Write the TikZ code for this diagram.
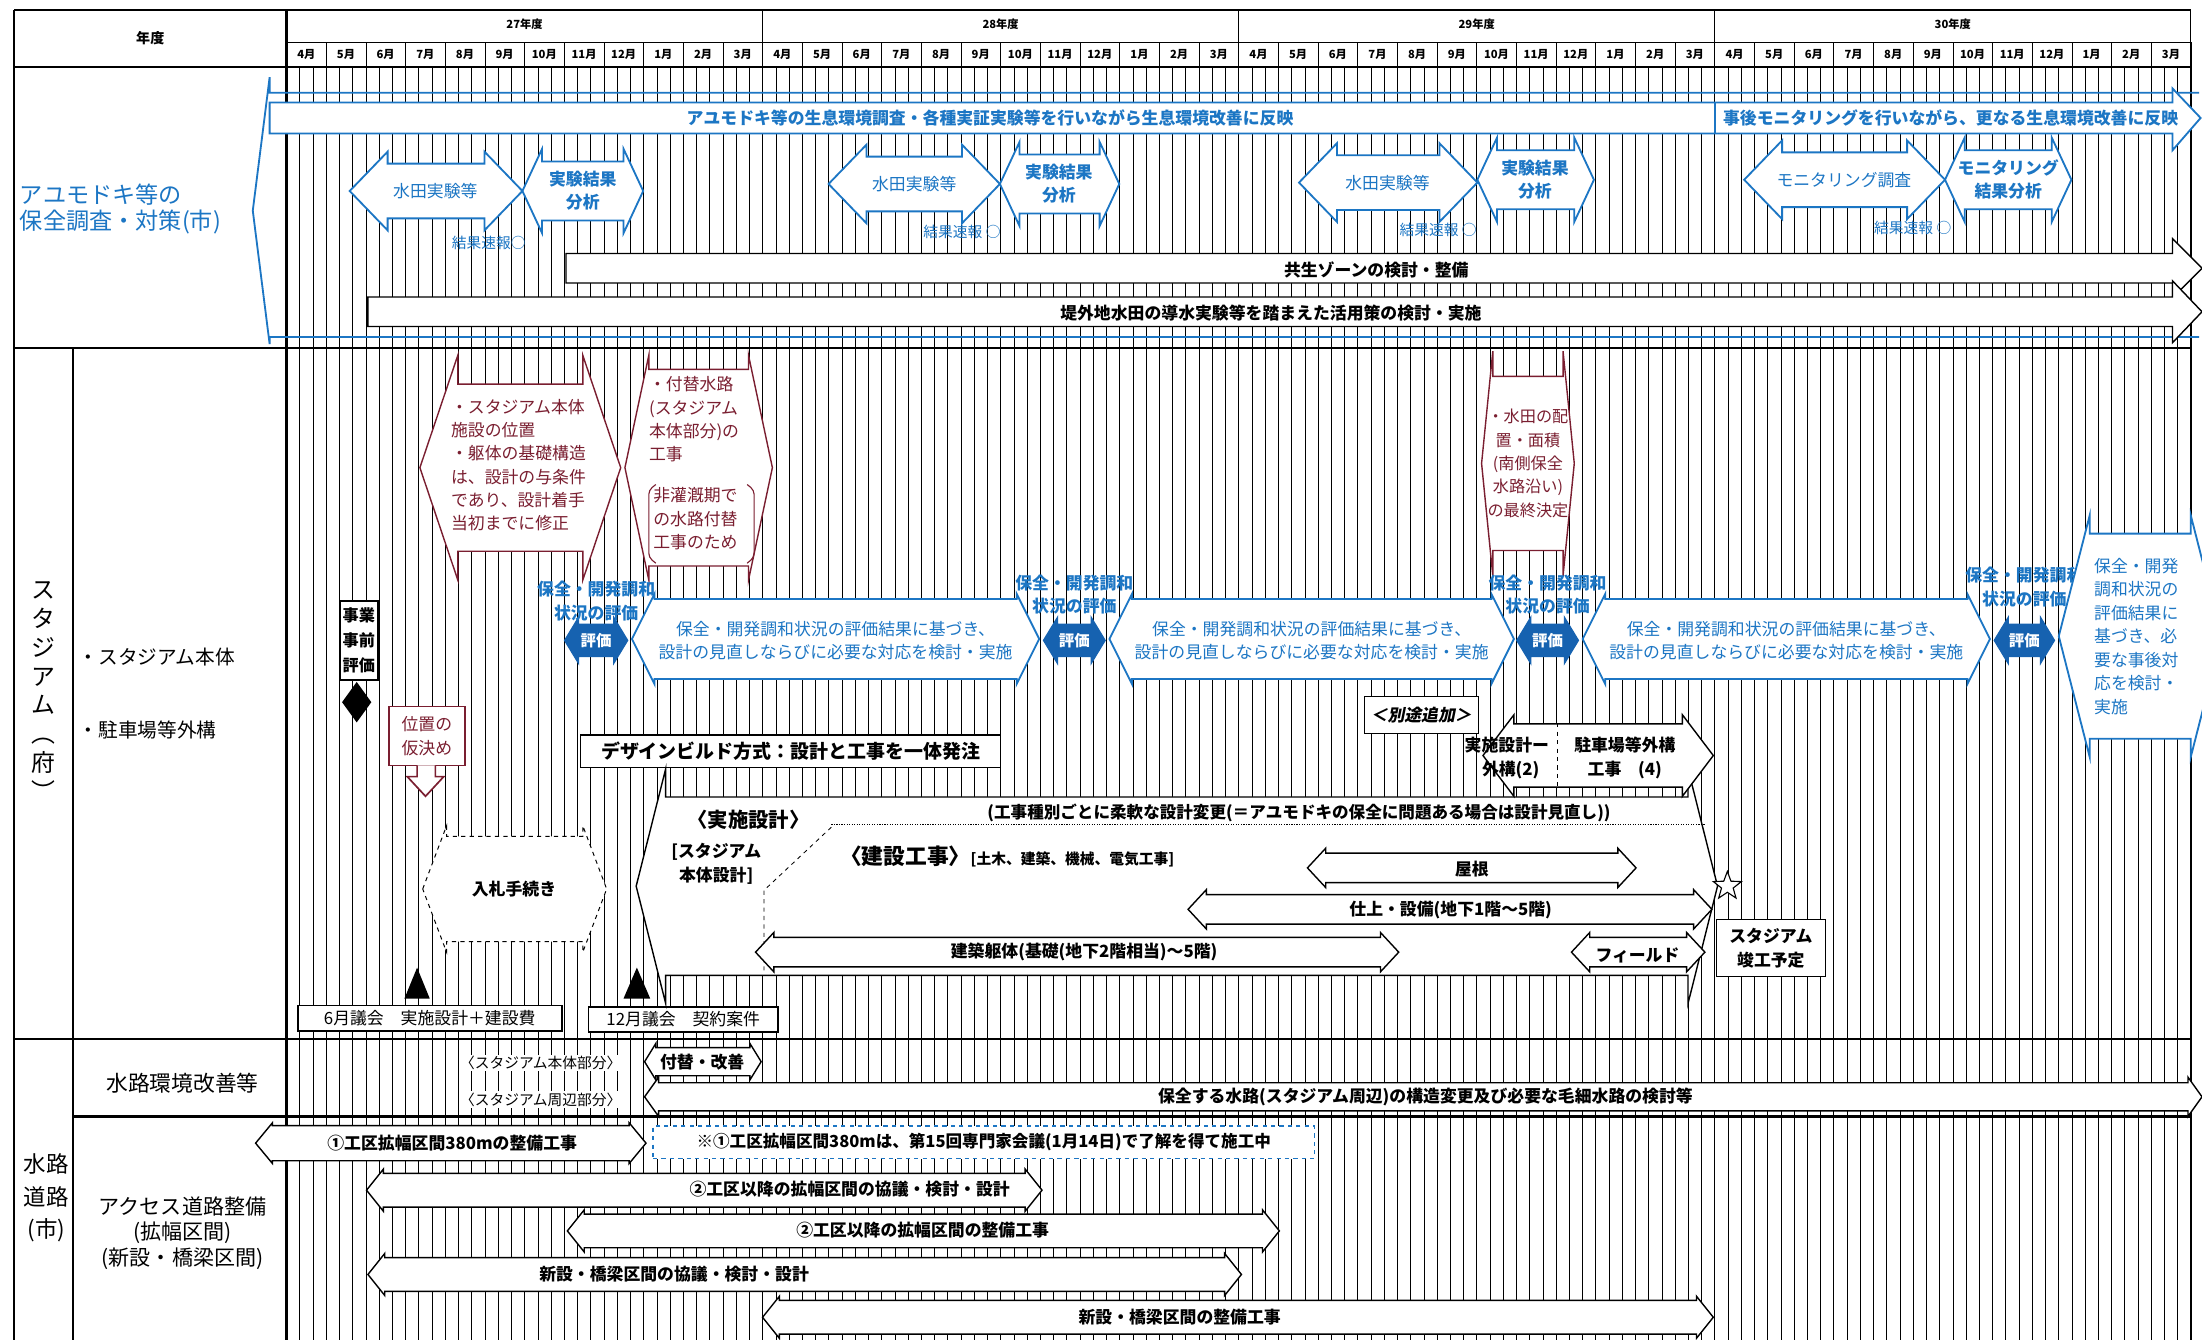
\documentclass[tikz,border=0pt]{standalone}
\usepackage{fontspec}
\setmainfont{Noto Sans CJK JP}
\newfontfamily\slantjp{Noto Sans CJK JP}[FakeSlant=0.2,BoldFeatures={FakeSlant=0.2}]
\usetikzlibrary{shapes.geometric}
\definecolor{ayublue}{RGB}{28,118,196}
\definecolor{evalblue}{RGB}{22,98,176}
\definecolor{maroon}{RGB}{122,30,48}
\newcommand{\fsz}[2]{\fontsize{#1}{#2}\selectfont}
% double headed bar: style, left tip, right tip, centre y, head depth, body half, head half
\newcommand{\dbar}[7][]{%
  \draw[#1] (#2,#4) -- (#2+#5,#4-#7) -- (#2+#5,#4-#6) -- (#3-#5,#4-#6) -- (#3-#5,#4-#7) -- (#3,#4) -- (#3-#5,#4+#7) -- (#3-#5,#4+#6) -- (#2+#5,#4+#6) -- (#2+#5,#4+#7) -- cycle;}
% single headed bar (head on the right)
\newcommand{\rbar}[7][]{%
  \draw[#1] (#2,#4-#6) -- (#3-#5,#4-#6) -- (#3-#5,#4-#7) -- (#3,#4) -- (#3-#5,#4+#7) -- (#3-#5,#4+#6) -- (#2,#4+#6) -- cycle;}
\tikzset{
  gridline/.style={line width=0.35pt},
  yearline/.style={line width=1pt},
  frameline/.style={line width=1.5pt},
  blueshape/.style={draw=ayublue,line width=1.3pt,fill=white},
  evalshape/.style={draw=evalblue,fill=evalblue,line width=0.8pt},
  maroonshape/.style={draw=maroon,line width=1pt,fill=white},
  blackshape/.style={draw=black,line width=1pt,fill=white},
  blk/.style={inner sep=0pt,align=center,font=\bfseries\fsz{12}{15}},
  blu/.style={inner sep=0pt,align=center,text=ayublue,font=\fsz{12}{16.5}},
  blub/.style={blu,font=\bfseries\fsz{12}{16.5}},
  mrn/.style={inner sep=0pt,align=left,text=maroon,font=\fsz{12}{16.6}},
  hdr/.style={inner sep=0pt,font=\bfseries\fsz{8}{9}},
  rowlabel/.style={inner sep=0pt,align=center,font=\fsz{15}{18}},
  boxed/.style={draw,line width=1.2pt,fill=white,inner sep=0pt,align=center,font=\bfseries\fsz{12}{15}}
}
\begin{document}
\begin{tikzpicture}[x=1pt,y=-1pt]
\useasboundingbox (0,0) rectangle (1568,954);
\fill[white] (0,0) rectangle (1568,954);

% grid of ten-day columns
\foreach \i in {0,...,144}
  \draw[gridline] ({204+\i*9.41667},48) -- ({204+\i*9.41667},954);
\foreach \i in {0,...,48}
  \draw[gridline] ({204+\i*28.25},30) -- ({204+\i*28.25},48);
\foreach \yr in {0,...,4}
  \draw[yearline] ({204+\yr*339},7) -- ({204+\yr*339},954);

% frame
\draw[frameline] (10,7) -- (1560,7);
\draw[gridline] (204,30) -- (1560,30);
\draw[frameline] (10,48) -- (1560,48);
\draw[frameline] (10,248) -- (1560,248);
\draw[frameline] (10,740) -- (1560,740);
\draw[frameline] (52,795) -- (1560,795);
\draw[frameline] (10,7) -- (10,954);
\draw[frameline] (204,7) -- (204,954);
\draw[frameline] (52,248) -- (52,954);

% header
\node[hdr,font=\bfseries\fsz{10}{12}] (nendo) at (107,27) {年度};
\foreach \yr/\lab in {0/27,1/28,2/29,3/30}
  \node[hdr] (year\lab) at ({204+(\yr+0.5)*339},17) {\lab 年度};
\foreach \yr in {0,...,3}
  \foreach \m [count=\k from 0] in {4,5,6,7,8,9,10,11,12,1,2,3}
    \node[hdr] (m\yr-\k) at ({204+(\yr*12+\k+0.5)*28.25},39) {\m 月};

% ---- section 1: ayumodoki
\draw[ayublue,line width=1.3pt] (1566,66) -- (192,66) -- (192,55) -- (180,150) -- (192,245) -- (192,240) -- (1566,240);
\draw[blueshape] (192,73) -- (1547,73) -- (1547,63) -- (1567,84) -- (1547,107) -- (1547,95) -- (192,95) -- cycle;
\draw[ayublue,line width=1.3pt] (1221,73) -- (1221,95);
\node[blub] (banner1) at (705,84) {アユモドキ等の生息環境調査・各種実証実験等を行いながら生息環境改善に反映};
\node[blub] (banner2) at (1389,84) {事後モニタリングを行いながら、更なる生息環境改善に反映};
\node[blu,align=left,anchor=west,font=\fsz{16.5}{18.5}] (ayulabel) at (14,149) {アユモドキ等の\\保全調査・対策(市)};

\dbar[blueshape]{249}{372}{136}{27}{19.5}{28}
\dbar[blueshape]{372}{458}{136}{14}{21}{30}
\dbar[blueshape]{590}{712}{131}{27}{19.5}{28}
\dbar[blueshape]{712}{797}{131}{14}{21}{30}
\dbar[blueshape]{925}{1052}{130}{27}{19.5}{28}
\dbar[blueshape]{1052}{1135}{128}{14}{21}{30}
\dbar[blueshape]{1242}{1385}{128}{27}{19.5}{28}
\dbar[blueshape]{1385}{1475}{128}{14}{21}{30}
\node[blu] (suiden1) at (310,136) {水田実験等};
\node[blub] (bunseki1) at (415,136) {実験結果\\分析};
\node[blu,font=\fsz{10.5}{12}] (sokuho1) at (348,173) {結果速報○};
\node[blu] (suiden2) at (651,131) {水田実験等};
\node[blub] (bunseki2) at (754,131) {実験結果\\分析};
\node[blu,font=\fsz{10.5}{12}] (sokuho2) at (685,165) {結果速報 ○};
\node[blu] (suiden3) at (988,130) {水田実験等};
\node[blub] (bunseki3) at (1093,128) {実験結果\\分析};
\node[blu,font=\fsz{10.5}{12}] (sokuho3) at (1024,164) {結果速報 ○};
\node[blu] (monitor4) at (1313,128) {モニタリング調査};
\node[blub] (bunseki4) at (1430,128) {モニタリング\\結果分析};
\node[blu,font=\fsz{10.5}{12}] (sokuho4) at (1362,162) {結果速報 ○};

\rbar[blackshape]{403}{1568}{191}{21}{10.5}{21}
\rbar[blackshape]{262}{1568}{222}{21}{10.5}{22}
\node[blk] (kyosei) at (980,192) {共生ゾーンの検討・整備};
\node[blk] (teigai) at (905,223) {堤外地水田の導水実験等を踏まえた活用策の検討・実施};

% ---- section 2: stadium
\node[rowlabel,font=\fsz{17}{20.5}] (stadlabel) at (31,492) {ス\\タ\\ジ\\ア\\ム\\︵\\府\\︶};
\node[rowlabel,anchor=west,font=\fsz{14}{16}] (honlabel) at (56,468) {・スタジアム本体};
\node[rowlabel,anchor=west,font=\fsz{14}{16}] (chulabel) at (56,520) {・駐車場等外構};

\dbar[maroonshape]{299}{442}{333}{27}{59.5}{80}
\dbar[maroonshape]{445}{550}{333}{17}{70}{80}
\dbar[maroonshape]{1055}{1121}{330}{8}{62}{80}
\node[mrn,anchor=north west] (hexpos) at (321,284) {・スタジアム本体\\施設の位置\\・躯体の基礎構造\\は、設計の与条件\\であり、設計着手\\当初までに修正};
\node[mrn,anchor=north west] (hexsui) at (462,268) {・付替水路\\(スタジアム\\本体部分)の\\工事};
\node[mrn,anchor=north west] (hexhi) at (465,347) {非灌漑期で\\の水路付替\\工事のため};
\draw[maroon,line width=0.8pt,rounded corners=3pt] (467,345) -- (462,349) -- (462,397) -- (467,401);
\draw[maroon,line width=0.8pt,rounded corners=3pt] (532,345) -- (537,349) -- (537,397) -- (532,401);
\node[mrn,align=center,font=\fsz{11.5}{16.7}] (hexsuiden) at (1088,330) {・水田の配\\置・面積\\(南側保全\\水路沿い)\\の最終決定};

% evaluation marks and follow-up arrows
\foreach \el/\er/\ly/\nm in {402/447/428/a,743/787/423.5/b,1080/1124/423.5/c,1420/1463/418/d}{
  \dbar[evalshape]{\el}{\er}{456}{10}{11.5}{16.5}
  \node[inner sep=0pt,text=white,font=\bfseries\fsz{11}{12}] (eval\nm) at ({(\el+\er)/2},456) {評価};
  \node[blub] (evallabel\nm) at ({(\el+\er)/2},\ly) {保全・開発調和\\状況の評価};
}
\foreach \bl/\br/\nm in {450/740/a,790/1078/b,1127/1417/c}{
  \dbar[blueshape]{\bl}{\br}{455}{16}{28.5}{32}
  \node[blu] (taio\nm) at ({(\bl+\br)/2},456) {保全・開発調和状況の評価結果に基づき、\\設計の見直しならびに必要な対応を検討・実施};
}
\dbar[blueshape]{1466}{1582}{453}{22}{73}{86}
\node[blu,align=left,anchor=north west,font=\fsz{12}{16.8}] (taiod) at (1491,397) {保全・開発\\調和状況の\\評価結果に\\基づき、必\\要な事後対\\応を検討・\\実施};

% early steps
\node[boxed,minimum width=27,minimum height=56,font=\bfseries\fsz{11.5}{18}] (jizen) at (255.5,456) {事業\\事前\\評価};
\node[diamond,fill=black,minimum width=21,minimum height=29,inner sep=0pt] (jizendia) at (254,500) {};
\node[draw=maroon,line width=1.2pt,fill=white,text=maroon,inner sep=0pt,align=center,minimum width=54,minimum height=42,font=\fsz{12}{17}] (karikime) at (304,524) {位置の\\仮決め};
\draw[maroonshape,line width=1.2pt] (297,545) -- (297,553) -- (290,553) -- (303,567) -- (316,553) -- (310,553) -- (310,545);
\dbar[draw=black,dashed,line width=0.7pt,fill=white]{301}{432}{633}{17}{37.5}{45}
\node[blk] (nyusatsu) at (366,633) {入札手続き};
\fill (288,711) -- (297,689) -- (306,711) -- cycle;
\fill (444,711) -- (453.5,689) -- (463,711) -- cycle;
\node[boxed,minimum width=188,minimum height=18,font=\fsz{12}{15}] (june) at (306,725) {6月議会　実施設計＋建設費};
\node[boxed,minimum width=135,minimum height=18,font=\fsz{12}{15}] (dec) at (486.5,726) {12月議会　契約案件};
\node[boxed,line width=1pt,minimum width=299,minimum height=23,font=\bfseries\fsz{13.5}{15}] (design) at (563,535) {デザインビルド方式：設計と工事を一体発注};

% design and construction
\dbar[blackshape]{453}{1223}{631}{21}{63.5}{83.5}
\draw[densely dotted,line width=0.8pt] (592,587) -- (1214,587);
\draw[dashed,line width=0.6pt] (592,589) -- (544,634) -- (544,691);
\node[blk,font=\bfseries\fsz{14.5}{16}] (jisshi) at (533,584) {〈実施設計〉};
\node[blk,font=\bfseries\fsz{11.8}{14}] (henko) at (925,579) {(工事種別ごとに柔軟な設計変更(＝アユモドキの保全に問題ある場合は設計見直し))};
\node[blk,font=\bfseries\fsz{12}{17}] (hontai) at (510,615) {[スタジアム\\本体設計]};
\node[blk,anchor=west] (kensetsu) at (598,610) {{\fsz{15.5}{16}〈建設工事〉}{\fsz{10.5}{12}[土木、建築、機械、電気工事]}};
\dbar[blackshape]{931}{1165}{618}{13}{10.5}{14}
\dbar[blackshape]{846}{1219}{647.5}{13}{10.5}{14}
\dbar[blackshape]{538}{996}{678}{13}{10.5}{14}
\dbar[blackshape]{1119}{1214}{678}{13}{10.5}{14}
\node[blk] (yane) at (1048,619) {屋根};
\node[blk] (shiage) at (1033,648) {仕上・設備(地下1階～5階)};
\node[blk] (kutai) at (772,678) {建築躯体(基礎(地下2階相当)～5階)};
\node[blk] (field) at (1166,680) {フィールド};
\node[star,star points=5,star point ratio=2.4,draw,line width=0.8pt,fill=white,minimum size=21pt,inner sep=0pt] (kstar) at (1230,631) {};
\node[boxed,line width=0.6pt,minimum width=78,minimum height=40,font=\bfseries\fsz{12}{17}] (kanko) at (1261,675) {スタジアム\\竣工予定};

% parking and exterior
\node[boxed,line width=0.8pt,minimum width=81,minimum height=26,font=\slantjp\bfseries\fsz{12}{14}] (betto) at (1012,509) {＜別途追加＞};
\dbar[blackshape]{1056}{1220}{538}{22}{22.5}{29}
\draw[dashed,line width=0.6pt] (1109,515) -- (1109,560);
\node[blk,font=\bfseries\fsz{12}{17}] (gaiko2) at (1073,540) {実施設計ー\\\ \ 外構(2)};
\node[blk,font=\bfseries\fsz{12}{17}] (gaiko4) at (1157,540) {駐車場等外構\\工事　(4)};

% ---- section 3: waterways and roads
\node[rowlabel,font=\fsz{16}{23}] (suirolabel) at (33,853) {水路\\道路\\(市)};
\node[rowlabel,font=\fsz{15.5}{18}] (kaizenlabel) at (130,771) {水路環境改善等};
\node[rowlabel,font=\fsz{15}{18}] (accesslabel) at (130,878) {アクセス道路整備\\(拡幅区間)\\(新設・橋梁区間)};

\node[inner sep=1pt,fill=white,font=\fsz{10.5}{12}] (bubun1) at (385,757) {〈スタジアム本体部分〉};
\node[inner sep=1pt,fill=white,font=\fsz{10.5}{12}] (bubun2) at (385,783) {〈スタジアム周辺部分〉};
\dbar[blackshape]{459}{542}{756}{8}{10}{13}
\dbar[blackshape]{459}{1568}{781}{10}{10}{14}
\node[blk] (tsukekae) at (500,756) {付替・改善};
\node[blk] (hozen) at (1015,781) {保全する水路(スタジアム周辺)の構造変更及び必要な毛細水路の検討等};

\dbar[blackshape]{182}{460}{814}{12}{12.5}{14.5}
\node[blk] (koku1) at (322,814) {①工区拡幅区間380mの整備工事};
\node[draw=ayublue,dashed,line width=1.2pt,fill=white,inner sep=0pt,minimum width=471,minimum height=23] (chuki) at (700.5,813.5) {};
\node[blk,font=\bfseries\fsz{11.8}{14}] (chukitext) at (chuki.center) {※①工区拡幅区間380mは、第15回専門家会議(1月14日)で了解を得て施工中};
\dbar[blackshape]{261}{742}{847.5}{12}{12}{15}
\dbar[blackshape]{404}{911}{876.5}{12}{12}{15}
\dbar[blackshape]{262}{884}{907.5}{12}{12}{15}
\dbar[blackshape]{543}{1220}{938}{12}{12}{15}
\node[blk] (koku2a) at (605,847) {②工区以降の拡幅区間の協議・検討・設計};
\node[blk] (koku2b) at (657,876) {②工区以降の拡幅区間の整備工事};
\node[blk] (shinsetsu1) at (480,907) {新設・橋梁区間の協議・検討・設計};
\node[blk] (shinsetsu2) at (840,938) {新設・橋梁区間の整備工事};
\end{tikzpicture}
\end{document}
